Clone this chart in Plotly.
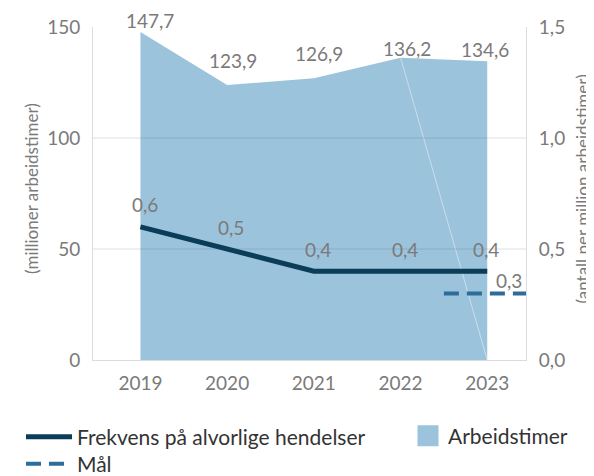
import plotly.graph_objects as go

years = [2019, 2020, 2021, 2022, 2023]
arbeidstimer = [147.7, 123.9, 126.9, 136.2, 134.6]
frekvens = [0.6, 0.5, 0.4, 0.4, 0.4]
mal_years = [2022.5, 2023.5]
mal_value = [0.3, 0.3]

left_ticks = [0, 50, 100, 150]
right_ticks = [0.0, 0.5, 1.0, 1.5]
grid_vals = [50, 100]

# label offsets (style)
arb_dx = [10, 6, 5, 6, -2]
arb_dy = [12, 24, 25, 9, 12]
frk_dx = [5, 4, 4, 4, -1]
frk_dy = [22, 22, 22, 22, 22]

# the page body has an 8px margin; the figure starts at (8, 8) in the window
PAGE_OFF = 8
W, H = 594 - PAGE_OFF, 476 - PAGE_OFF
AREA = "#9cc3dc"
NAVY = "#0b3c58"
DASH = "#2e6c9a"
GRAY = "#7a7a7a"
AXIS = "#d9dde2"
FONT = "Lato"


def fmt(v):
    return f"{v:.1f}".replace(".", ",")


def px(x):
    return (x - PAGE_OFF) / W


def py(y):
    return 1 - (y - PAGE_OFF) / H


fig = go.Figure()

fig.add_trace(go.Scatter(
    x=years, y=arbeidstimer, mode="none", fill="tozeroy",
    fillcolor=AREA, showlegend=False, hoverinfo="skip", yaxis="y"))

# faint seam inside the area
fig.add_trace(go.Scatter(
    x=[years[3], years[4]], y=[arbeidstimer[3], 0], mode="lines",
    line=dict(color="rgba(255,255,255,0.45)", width=1),
    showlegend=False, hoverinfo="skip", yaxis="y"))

fig.add_trace(go.Scatter(
    x=years, y=frekvens, mode="lines", name="Frekvens på alvorlige hendelser",
    line=dict(color=NAVY, width=5), yaxis="y2", legend="legend"))

fig.add_trace(go.Scatter(
    x=mal_years, y=mal_value, mode="lines", name="Mål",
    line=dict(color=DASH, width=4, dash="15px,8px"), yaxis="y2", legend="legend2"))

# legend-only entry for the area
fig.add_trace(go.Scatter(
    x=[None], y=[None], mode="markers", name="Arbeidstimer",
    marker=dict(symbol="square", size=16, color=AREA, line=dict(color=AREA, width=5)),
    yaxis="y", legend="legend3"))

LBL = dict(family=FONT, size=19, color=GRAY)
annotations = []
for i, (x, v) in enumerate(zip(years, arbeidstimer)):
    annotations.append(dict(x=x, y=v, xref="x", yref="y", text=fmt(v), showarrow=False,
                            xshift=arb_dx[i], yshift=arb_dy[i], font=LBL))
for i, (x, v) in enumerate(zip(years, frekvens)):
    annotations.append(dict(x=x, y=v, xref="x", yref="y2", text=fmt(v), showarrow=False,
                            xshift=frk_dx[i], yshift=frk_dy[i], font=LBL))
annotations.append(dict(x=(years[-1] + mal_years[-1]) / 2, y=mal_value[0], xref="x", yref="y2",
                        text=fmt(mal_value[0]), showarrow=False, yshift=13, font=LBL))
annotations.append(dict(x=px(32), y=py(189), xref="paper", yref="paper", textangle=-90,
                        xanchor="center", yanchor="middle",
                        text="(millioner arbeidstimer)", showarrow=False,
                        font=dict(family=FONT, size=17, color=GRAY)))
annotations.append(dict(x=px(582.5), y=py(189), xref="paper", yref="paper", textangle=-90,
                        xanchor="center", yanchor="middle",
                        text="(antall per million arbeidstimer)", showarrow=False,
                        font=dict(family=FONT, size=17, color=GRAY)))

shapes = [dict(type="line", xref="paper", x0=px(93), x1=px(526), yref="y", y0=g, y1=g,
               layer="above", line=dict(color="rgba(70,90,110,0.2)", width=1))
          for g in grid_vals]

legend_common = dict(xanchor="left", yanchor="middle", bgcolor="rgba(0,0,0,0)",
                     font=dict(family=FONT, size=21, color="#333333"))

fig.update_layout(
    width=W, height=H,
    margin=dict(l=0, r=0, t=0, b=0, autoexpand=False),
    paper_bgcolor="white", plot_bgcolor="white",
    separators=", ",
    font=dict(family=FONT, size=17, color=GRAY),
    xaxis=dict(domain=[px(93), px(526)], range=[2018.453, 2023.447], tickvals=years,
               ticktext=[str(y) for y in years], automargin=False,
               showgrid=False, zeroline=False, showline=True, linecolor=AXIS, linewidth=1,
               ticks="", ticklabelstandoff=6, tickfont=dict(family=FONT, size=19, color=GRAY)),
    yaxis=dict(domain=[py(360), py(27)], range=[0, 150], tickvals=left_ticks, showgrid=False,
               automargin=False,
               zeroline=False, showline=True, linecolor=AXIS, linewidth=1, ticks="",
               ticklabelstandoff=8, tickfont=dict(family=FONT, size=19, color=GRAY)),
    yaxis2=dict(range=[0, 1.5], tickvals=right_ticks, tickformat=".1f", overlaying="y",
                side="right", showgrid=False, zeroline=False, showline=True, linecolor=AXIS,
                automargin=False,
                linewidth=1, ticks="", ticklabelstandoff=8,
                tickfont=dict(family=FONT, size=19, color=GRAY)),
    legend=dict(x=px(21), y=py(437), itemwidth=46, **legend_common),
    legend2=dict(x=px(21), y=py(464), itemwidth=46, **legend_common),
    legend3=dict(x=px(408), y=py(436), itemwidth=30, **legend_common),
    annotations=annotations,
    shapes=shapes,
    hovermode=False,
)

fig.write_html("out.html")
